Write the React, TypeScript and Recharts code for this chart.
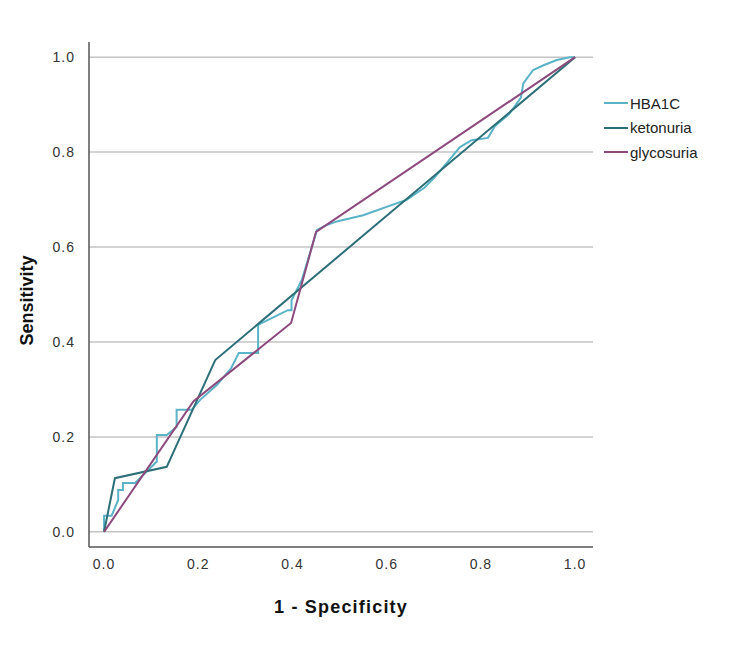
import { LineChart, Line, XAxis, YAxis, CartesianGrid } from 'recharts';

// ROC curve coordinates: false positive rate (1 - specificity) vs true positive rate
const hba1cFpr = [
  0, 0, 0.016, 0.03, 0.03, 0.04, 0.04, 0.066, 0.112, 0.112, 0.133, 0.154, 0.154, 0.186, 0.204,
  0.24, 0.27, 0.286, 0.327, 0.327, 0.39, 0.398, 0.398, 0.42, 0.452, 0.47, 0.494, 0.55, 0.643,
  0.68, 0.7, 0.73, 0.755, 0.78, 0.815, 0.83, 0.86, 0.885, 0.89, 0.911, 0.933, 0.961, 0.989, 1,
];
const hba1cTpr = [
  0, 0.034, 0.034, 0.067, 0.088, 0.088, 0.103, 0.103, 0.148, 0.204, 0.204, 0.221, 0.257, 0.257,
  0.278, 0.31, 0.345, 0.377, 0.377, 0.436, 0.467, 0.467, 0.488, 0.531, 0.636, 0.645, 0.654, 0.667,
  0.7, 0.725, 0.745, 0.78, 0.81, 0.825, 0.83, 0.855, 0.88, 0.915, 0.945, 0.973, 0.983, 0.994, 1, 1,
];
const ketonuriaFpr = [0, 0.023, 0.133, 0.236, 1];
const ketonuriaTpr = [0, 0.113, 0.137, 0.362, 1];
const glycosuriaFpr = [0, 0.19, 0.397, 0.45, 1];
const glycosuriaTpr = [0, 0.275, 0.44, 0.632, 1];

const ticks = [0, 0.2, 0.4, 0.6, 0.8, 1];

const toPoints = (fpr: number[], tpr: number[]) => fpr.map((x, i) => ({ x, y: tpr[i] }));

const series = [
  { name: 'HBA1C', color: '#5ab3c7', data: toPoints(hba1cFpr, hba1cTpr) },
  { name: 'ketonuria', color: '#2d6f78', data: toPoints(ketonuriaFpr, ketonuriaTpr) },
  { name: 'glycosuria', color: '#8d4a7d', data: toPoints(glycosuriaFpr, glycosuriaTpr) },
];

const font = '"Liberation Sans", Arial, sans-serif';

function RocLegend() {
  return (
    <div style={{ position: 'absolute', left: 596, top: 83, fontFamily: font, fontSize: 15, color: '#222' }}>
      {series.map((s) => (
        <div key={s.name} style={{ display: 'flex', alignItems: 'center', height: 24.5 }}>
          <span style={{ display: 'inline-block', width: 24, height: 2, background: s.color, marginRight: 2 }} />
          <span>{s.name}</span>
        </div>
      ))}
    </div>
  );
}

const fmt = (v: number) => v.toFixed(1);

export default function App() {
  return (
    <div style={{ position: 'relative', width: 750, height: 630, background: '#fff' }}>
      <LineChart width={750} height={630} margin={{ top: 34, right: 165, left: 0, bottom: 31 }}>
        {/* gridlines only at the sensitivity ticks */}
        <CartesianGrid vertical={false} syncWithTicks stroke="#c4c4c4" strokeWidth={1.5} />
        <XAxis
          type="number"
          dataKey="x"
          domain={[-0.032, 1.038]}
          ticks={ticks}
          tickFormatter={fmt}
          height={60}
          tickLine={false}
          tickMargin={6}
          stroke="#555"
          strokeWidth={1.5}
          tick={{ fill: '#333', fontSize: 14, fontFamily: font, letterSpacing: 1 }}
          allowDataOverflow
          label={({ viewBox }: any) => (
            <text
              x={viewBox.x + viewBox.width / 2}
              y={viewBox.y + 60}
              textAnchor="middle"
              dominantBaseline="central"
              fontFamily={font}
              fontSize={18}
              fontWeight="bold"
              letterSpacing={1.2}
              fill="#111"
            >
              1 - Specificity
            </text>
          )}
        />
        <YAxis
          type="number"
          domain={[-0.032, 1.032]}
          ticks={ticks}
          tickFormatter={fmt}
          width={81}
          tickLine={false}
          tickMargin={8}
          stroke="#555"
          strokeWidth={1.5}
          tick={{ fill: '#333', fontSize: 14, fontFamily: font, letterSpacing: 1 }}
          allowDataOverflow
          label={({ viewBox }: any) => {
            const cx = viewBox.x + 19;
            const cy = viewBox.y + viewBox.height / 2 + 6;
            return (
              <text
                x={cx}
                y={cy}
                transform={`rotate(-90, ${cx}, ${cy})`}
                textAnchor="middle"
                dominantBaseline="central"
                fontFamily={font}
                fontSize={18}
                fontWeight="bold"
                fill="#111"
              >
                Sensitivity
              </text>
            );
          }}
        />
        {series.map((s) => (
          <Line
            key={s.name}
            name={s.name}
            data={s.data}
            dataKey="y"
            type="linear"
            stroke={s.color}
            strokeWidth={2}
            dot={false}
            activeDot={false}
            isAnimationActive={false}
          />
        ))}
      </LineChart>
      <RocLegend />
    </div>
  );
}
